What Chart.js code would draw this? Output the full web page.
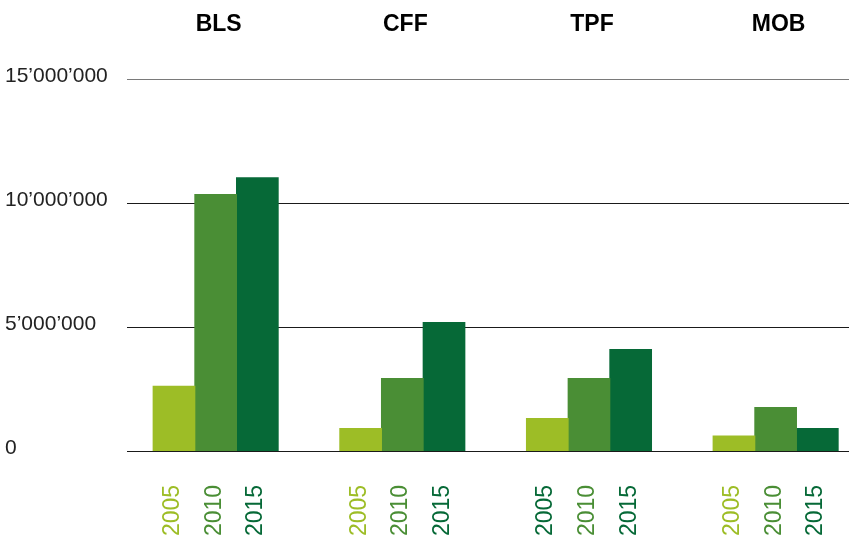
<!DOCTYPE html>
<html>
<head>
<meta charset="utf-8">
<script src="https://cdn.jsdelivr.net/npm/chart.js@4/dist/chart.umd.min.js"></script>
<style>
  html, body { margin: 0; padding: 0; background: #fff; }
  #wrap { width: 849px; height: 543px; }
</style>
</head>
<body>
<div id="wrap"><canvas id="chart"></canvas></div>
<script>
// ── Data ──────────────────────────────────────
const groups = ['BLS', 'CFF', 'TPF', 'MOB'];
const years = ['2005', '2010', '2015'];
const values2005 = [2610000, 910000, 1310000, 600000];
const values2010 = [10340000, 2920000, 2920000, 1750000];
const values2015 = [11020000, 5180000, 4090000, 910000];
const yTicks = [0, 5000000, 10000000, 15000000];

// ── Styles ────────────────────────────────────
const barColors = ['#9dbd26', '#4a8e35', '#066937'];
// colour of each year label under the bars, per group
const labelColors = [
  ['#9dbd26', '#4a8e35', '#066937'],
  ['#9dbd26', '#4a8e35', '#066937'],
  ['#066937', '#4a8e35', '#066937'],
  ['#9dbd26', '#4a8e35', '#066937']
];
const FONT = '"Liberation Sans", Arial, Helvetica, sans-serif';

function fmt(v) {
  return String(v).replace(/\B(?=(\d{3})+(?!\d))/g, '\u2019');
}

const series = [values2005, values2010, values2015];
const datasets = series.map((vals, k) => ({
  label: years[k],
  data: vals.map((v, i) => ({ x: i, y: v })),
  backgroundColor: barColors[k],
  borderWidth: 0,
  inflateAmount: 0.5,
  categoryPercentage: 0.67,
  barPercentage: 1
}));

// ── Group titles + rotated year labels ────────
const labelsPlugin = {
  id: 'labels',
  afterDraw(chart) {
    const ctx = chart.ctx;
    const xs = chart.scales.x;
    ctx.save();
    ctx.fillStyle = '#000';
    ctx.font = 'bold 23px ' + FONT;
    ctx.textAlign = 'center';
    ctx.textBaseline = 'alphabetic';
    groups.forEach((g, i) => {
      ctx.fillText(g, xs.getPixelForValue(i) + 3, 31);
    });

    ctx.font = '23px ' + FONT;
    ctx.textAlign = 'left';
    datasets.forEach((ds, k) => {
      const meta = chart.getDatasetMeta(k);
      meta.data.forEach((bar, i) => {
        ctx.save();
        ctx.translate(bar.x + 5, 536);
        ctx.rotate(-Math.PI / 2);
        ctx.fillStyle = labelColors[i][k];
        ctx.fillText(years[k], 0, 0);
        ctx.restore();
      });
    });
    ctx.restore();
  }
};

new Chart(document.getElementById('chart'), {
  type: 'bar',
  data: { datasets },
  options: {
    responsive: true,
    maintainAspectRatio: false,
    animation: false,
    layout: { padding: { left: 5, top: 79, right: 0, bottom: 92 } },
    plugins: { legend: { display: false }, tooltip: { enabled: false } },
    scales: {
      x: {
        type: 'linear',
        display: false,
        offset: false,
        min: -0.475,
        max: 3.393,
        afterBuildTicks: (s) => { s.ticks = groups.map((g, i) => ({ value: i })); },
        grid: { display: false, offset: false }
      },
      y: {
        min: 0,
        max: 15000000,
        z: 1,
        afterBuildTicks: (s) => { s.ticks = yTicks.map(v => ({ value: v })); },
        afterFit: (s) => { s.width = 122; },
        border: { display: false },
        grid: {
          drawTicks: false,
          lineWidth: 1,
          color: (c) => c.tick && c.tick.value === 15000000 ? '#7a7a7a' : '#1a1a1a'
        },
        ticks: {
          crossAlign: 'far',
          labelOffset: -3,
          padding: 0,
          color: '#222',
          font: { family: FONT, size: 21 },
          callback: (v) => fmt(v)
        }
      }
    }
  },
  plugins: [labelsPlugin]
});
</script>
</body>
</html>
